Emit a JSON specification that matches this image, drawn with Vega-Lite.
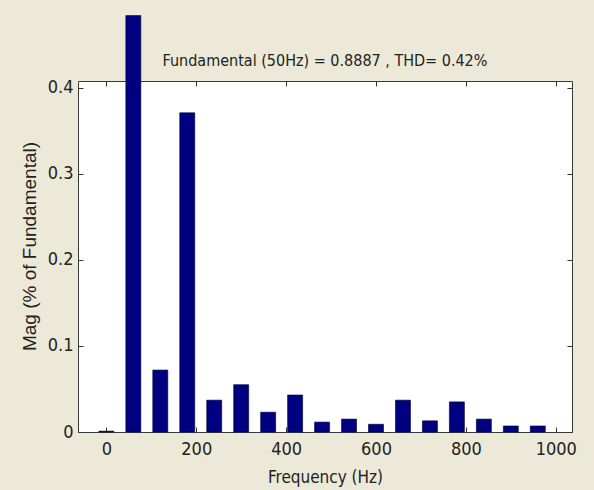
{
  "$schema": "https://vega.github.io/schema/vega-lite/v6.json",
  "width": 494,
  "height": 351,
  "autosize": {"type": "none"},
  "padding": {"left": 78, "top": 81, "right": 22, "bottom": 58},
  "background": "#ECE9D8",
  "view": {"fill": "#ffffff", "stroke": "#3a3a3a", "strokeWidth": 1},
  "datasets": {
    "spectrum": [
      {"f": 0, "mag": 0.001},
      {"f": 60, "mag": 0.484},
      {"f": 120, "mag": 0.072},
      {"f": 180, "mag": 0.371},
      {"f": 240, "mag": 0.037},
      {"f": 300, "mag": 0.055},
      {"f": 360, "mag": 0.023},
      {"f": 420, "mag": 0.043},
      {"f": 480, "mag": 0.0115},
      {"f": 540, "mag": 0.015},
      {"f": 600, "mag": 0.009},
      {"f": 660, "mag": 0.037},
      {"f": 720, "mag": 0.013},
      {"f": 780, "mag": 0.035},
      {"f": 840, "mag": 0.015},
      {"f": 900, "mag": 0.007},
      {"f": 960, "mag": 0.007}
    ],
    "heading": [
      {"label": "Fundamental (50Hz) = 0.8887 , THD= 0.42%", "f": 486.5, "mag": 0.4256}
    ]
  },
  "layer": [
    {
      "data": {"name": "spectrum"},
      "mark": {"type": "bar", "size": 15, "color": "#000080", "stroke": "#000030", "strokeWidth": 0.6, "clip": false},
      "encoding": {
        "x": {
          "field": "f", "type": "quantitative",
          "scale": {"domain": [-52, 1025], "nice": false, "zero": false},
          "axis": {
            "title": "Frequency (Hz)",
            "values": [0, 200, 400, 600, 800, 1000],
            "format": "d",
            "domain": false,
            "grid": false,
            "tickSize": -5,
            "tickColor": "#333333",
            "labelPadding": 13,
            "labelFont": "DejaVu Sans Condensed, Liberation Sans, sans-serif",
            "labelFontSize": 18,
            "labelColor": "#222222",
            "titleFont": "DejaVu Sans Condensed, Liberation Sans, sans-serif",
            "titleFontSize": 17,
            "titleFontWeight": "normal",
            "titleColor": "#222222",
            "titlePadding": 11
          }
        },
        "y": {
          "field": "mag", "type": "quantitative",
          "scale": {"domain": [0, 0.408], "nice": false},
          "axis": {
            "title": "Mag (% of Fundamental)",
            "values": [0, 0.1, 0.2, 0.3, 0.4],
            "format": "~g",
            "domain": false,
            "grid": false,
            "tickSize": -5,
            "tickColor": "#333333",
            "labelPadding": 10,
            "labelFont": "DejaVu Sans Condensed, Liberation Sans, sans-serif",
            "labelFontSize": 18,
            "labelColor": "#222222",
            "titleFont": "Liberation Sans",
            "titleFontSize": 19,
            "titleFontWeight": "normal",
            "titleColor": "#222222",
            "titlePadding": 8,
            "titleY": 165
          }
        }
      }
    },
    {
      "data": {"name": "spectrum"},
      "mark": {"type": "rule", "opacity": 0},
      "encoding": {
        "x": {
          "field": "f", "type": "quantitative",
          "axis": {
            "orient": "top", "title": null, "labels": false,
            "values": [0, 200, 400, 600, 800, 1000],
            "domain": false, "grid": false,
            "tickSize": -5, "tickColor": "#333333"
          }
        },
        "y": {
          "field": "mag", "type": "quantitative",
          "axis": {
            "orient": "right", "title": null, "labels": false,
            "values": [0, 0.1, 0.2, 0.3, 0.4],
            "domain": false, "grid": false,
            "tickSize": -5, "tickColor": "#333333"
          }
        }
      }
    },
    {
      "data": {"name": "heading"},
      "mark": {
        "type": "text",
        "clip": false,
        "align": "center",
        "baseline": "alphabetic",
        "font": "DejaVu Sans Condensed, Liberation Sans, sans-serif",
        "fontSize": 16,
        "color": "#222222"
      },
      "encoding": {
        "x": {"field": "f", "type": "quantitative", "axis": null},
        "y": {"field": "mag", "type": "quantitative", "axis": null},
        "text": {"field": "label"}
      }
    }
  ],
  "resolve": {"axis": {"x": "independent", "y": "independent"}}
}
